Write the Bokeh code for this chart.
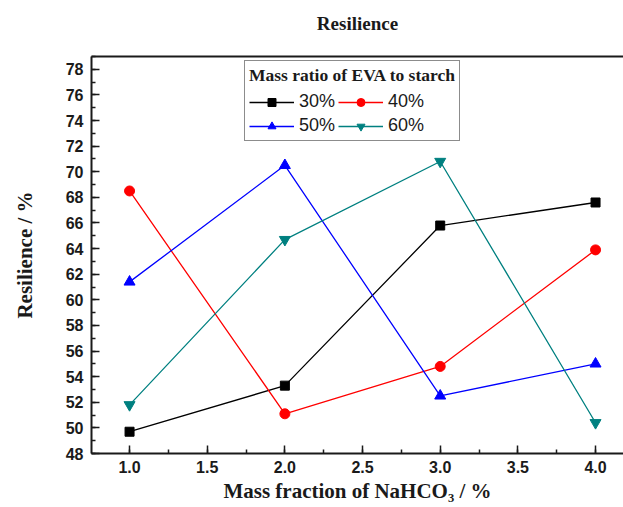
from bokeh.plotting import figure
from bokeh.models import (Range1d, LinearAxis, SingleIntervalTicker, FixedTicker,
                          Legend, LegendItem, PrintfTickFormatter)
from bokeh.embed import file_html
from bokeh.resources import INLINE

# NaHCO3 mass fraction (%) against resilience (%) for each EVA:starch mass ratio
nahco3 = [1.0, 2.0, 3.0, 4.0]
res_30 = [49.7, 53.3, 65.8, 67.6]
res_40 = [68.5, 51.1, 54.8, 63.9]
res_50 = [61.4, 70.5, 52.5, 55.0]
res_60 = [51.8, 64.7, 70.8, 50.4]
ratio_labels = ["30%", "40%", "50%", "60%"]
chart_title = "Resilience"

TICK_FONT = "Liberation Sans"
LABEL_FONT = "Liberation Serif"
INK = "#1a1a1a"

p = figure(width=623, height=507, output_backend="svg", toolbar_location=None,
           x_range=Range1d(0.755, 4.18), y_range=Range1d(48, 79),
           min_border_left=91, min_border_right=0, min_border_top=56, min_border_bottom=54,
           x_axis_label="Mass fraction of NaHCO\u2083 / %", y_axis_label="Resilience / %")
p.outline_line_color = None
p.xgrid.visible = False
p.ygrid.visible = False
p.background_fill_color = "white"
p.border_fill_color = "white"

for ax in (p.xaxis[0], p.yaxis[0]):
    ax.axis_line_width = 2
    ax.axis_line_color = INK
    ax.major_tick_in = 8
    ax.major_tick_out = 0
    ax.minor_tick_in = 4
    ax.minor_tick_out = 0
    ax.major_tick_line_width = 1.5
    ax.minor_tick_line_width = 1.5
    ax.major_tick_line_color = INK
    ax.minor_tick_line_color = INK
    ax.major_label_text_font = TICK_FONT
    ax.major_label_text_font_style = "bold"
    ax.major_label_text_font_size = "16px"
    ax.major_label_text_color = INK
    ax.axis_label_text_font = LABEL_FONT
    ax.axis_label_text_font_style = "bold"
    ax.axis_label_text_font_size = "21px"
    ax.axis_label_text_color = INK

p.xaxis[0].ticker = SingleIntervalTicker(interval=0.5, num_minor_ticks=2)
p.xaxis[0].formatter = PrintfTickFormatter(format="%.1f")
p.yaxis[0].ticker = SingleIntervalTicker(interval=2, num_minor_ticks=2)
p.xaxis[0].major_label_standoff = 7
p.yaxis[0].major_label_standoff = 8
p.xaxis[0].axis_label_standoff = 3
p.yaxis[0].axis_label_standoff = 26

# top frame edge, carrying the chart heading as its label
top_edge = LinearAxis(ticker=FixedTicker(ticks=[]), axis_line_width=2, axis_line_color=INK,
                      major_label_standoff=0, major_tick_out=0, minor_tick_out=0,
                      axis_label=chart_title, axis_label_standoff=23,
                      axis_label_text_font=LABEL_FONT, axis_label_text_font_style="bold",
                      axis_label_text_font_size="19px", axis_label_text_color=INK)
p.add_layout(top_edge, "above")

series = [res_30, res_40, res_50, res_60]
colors = ["#000000", "#ff0000", "#0000ff", "#008080"]
markers = ["square", "circle", "triangle", "inverted_triangle"]
sizes = [9, 10, 11, 11]

items = {}
for label, ys, c, m, s in zip(ratio_labels, series, colors, markers, sizes):
    ln = p.line(nahco3, ys, line_color=c, line_width=1.3)
    pts = p.scatter(nahco3, ys, marker=m, size=s, fill_color=c, line_color=c)
    items[label] = LegendItem(label=label, renderers=[ln, pts])

# two columns, filled column by column: 30%/50% left, 40%/60% right
legend_order = ["30%", "50%", "40%", "60%"]
legend = Legend(items=[items[k] for k in legend_order], ncols=2, location=(153, 312),
                title="Mass ratio of EVA to starch",
                title_text_font=LABEL_FONT, title_text_font_style="bold",
                title_text_font_size="17.5px", title_text_color=INK, title_standoff=5,
                label_text_font=TICK_FONT, label_text_font_size="18px", label_text_color=INK,
                border_line_color=INK, border_line_width=1.5,
                background_fill_color="white", background_fill_alpha=1.0,
                padding=4, margin=0, spacing=3, glyph_width=45, glyph_height=20,
                label_height=20, label_standoff=5)
p.add_layout(legend)

open("out.html", "w").write(file_html(p, INLINE))
